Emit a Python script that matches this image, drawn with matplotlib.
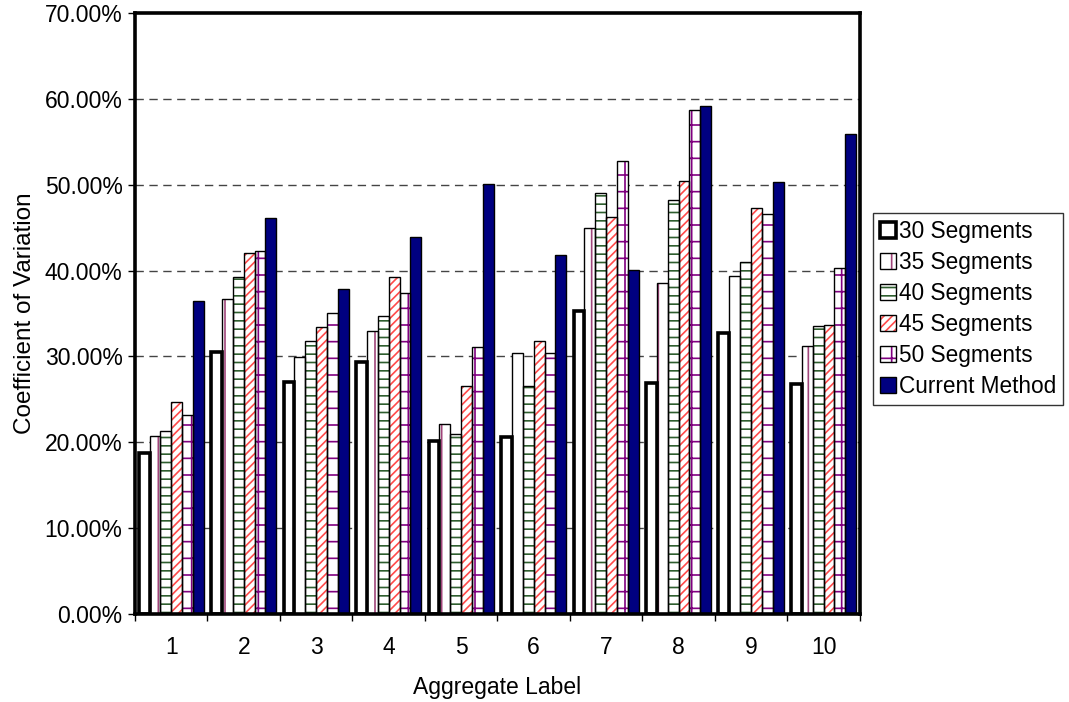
import matplotlib
matplotlib.use("Agg")
import matplotlib.pyplot as plt
import numpy as np
from matplotlib.ticker import FuncFormatter, FixedLocator

plt.rcParams["font.family"] = ["Liberation Sans", "DejaVu Sans"]
plt.rcParams["hatch.linewidth"] = 1.2

# ---------------------------------------------------------
# Data (coefficient of variation, %)
# ---------------------------------------------------------

labels = ["1", "2", "3", "4", "5", "6", "7", "8", "9", "10"]

seg30 = [18.7, 30.5, 27.0, 29.3, 20.1, 20.6, 35.3, 26.9, 32.7, 26.8]
seg35 = [20.7, 36.7, 29.9, 33.0, 22.1, 30.4, 45.0, 38.5, 39.4, 31.2]
seg40 = [21.3, 39.2, 31.8, 34.7, 21.0, 26.5, 49.0, 48.2, 41.0, 33.5]
seg45 = [24.7, 42.0, 33.4, 39.2, 26.5, 31.8, 46.2, 50.4, 47.3, 33.7]
seg50 = [23.2, 42.3, 35.1, 37.4, 31.1, 30.4, 52.8, 58.7, 46.6, 40.3]
current = [36.4, 46.1, 37.9, 43.9, 50.1, 41.8, 40.1, 59.2, 50.3, 55.9]

series_names = ["30 Segments", "35 Segments", "40 Segments",
                "45 Segments", "50 Segments", "Current Method"]
series_values = [seg30, seg35, seg40, seg45, seg50, current]

# fill, hatch, hatch colour, edge width
styles = [
    ("white", "", "black", 2.6),
    ("white", "|", "#A0457A", 1.0),
    ("white", "--", "#2E5E2E", 1.0),
    ("white", "////", "#FF4A4A", 1.0),
    ("white", "+", "#800080", 1.0),
    ("#000080", "", "#000080", 1.0),
]

# ---------------------------------------------------------
# Plot
# ---------------------------------------------------------

fig = plt.figure(figsize=(10.69, 7.02), dpi=100)
ax = fig.add_axes([0.1263, 0.1254, 0.678, 0.8561])

x = np.arange(1, len(labels) + 1)
width = 0.15
offsets = (np.arange(6) - 2.5) * width

handles = []
for vals, (fill, hatch, hcol, lw), off in zip(series_values, styles, offsets):
    pattern = ax.bar(
        x + off, vals, width,
        color=fill, hatch=hatch, edgecolor=hcol, linewidth=0,
        zorder=2
    )
    border = ax.bar(
        x + off, vals, width,
        fill=False, edgecolor="black", linewidth=lw,
        zorder=3
    )
    handles.append((pattern[0], border[0]))

ax.set_xlim(0.5, len(labels) + 0.5)
ax.set_ylim(0, 70)

ax.yaxis.set_major_locator(FixedLocator(np.arange(0, 71, 10)))
ax.yaxis.set_major_formatter(FuncFormatter(lambda v, p: f"{v:.2f}%"))

ax.xaxis.set_major_locator(FixedLocator(np.arange(0.5, len(labels) + 1, 1)))
ax.xaxis.set_major_formatter(FuncFormatter(lambda v, p: ""))
ax.xaxis.set_minor_locator(FixedLocator(x))
ax.set_xticklabels(labels, minor=True)

ax.tick_params(axis="both", which="major", direction="out", length=5,
               width=1, colors="black", labelsize=16.5)
ax.tick_params(axis="x", which="minor", length=0, pad=16, labelsize=16.5)
ax.tick_params(axis="y", pad=4)

for y in range(10, 70, 10):
    ax.axhline(y, color="#444444", linewidth=1, linestyle=(0, (6, 4)),
               zorder=1)

for side in ["left", "right", "top", "bottom"]:
    ax.spines[side].set_linewidth(2.6)
    ax.spines[side].set_zorder(5)

ax.set_xlabel("Aggregate Label", fontsize=16.5, labelpad=12)
ax.set_ylabel("Coefficient of Variation", fontsize=17.5, labelpad=6)

leg = ax.legend(
    handles, series_names,
    loc="center left",
    bbox_to_anchor=(0.817, 0.56),
    bbox_transform=fig.transFigure,
    fontsize=16.3,
    frameon=True,
    fancybox=False,
    edgecolor="black",
    handlelength=0.7,
    handleheight=0.7,
    handletextpad=0.15,
    labelspacing=0.36,
    borderpad=0.3,
    borderaxespad=0,
)
leg.get_frame().set_linewidth(1)

fig.savefig("out.png", dpi=100)
